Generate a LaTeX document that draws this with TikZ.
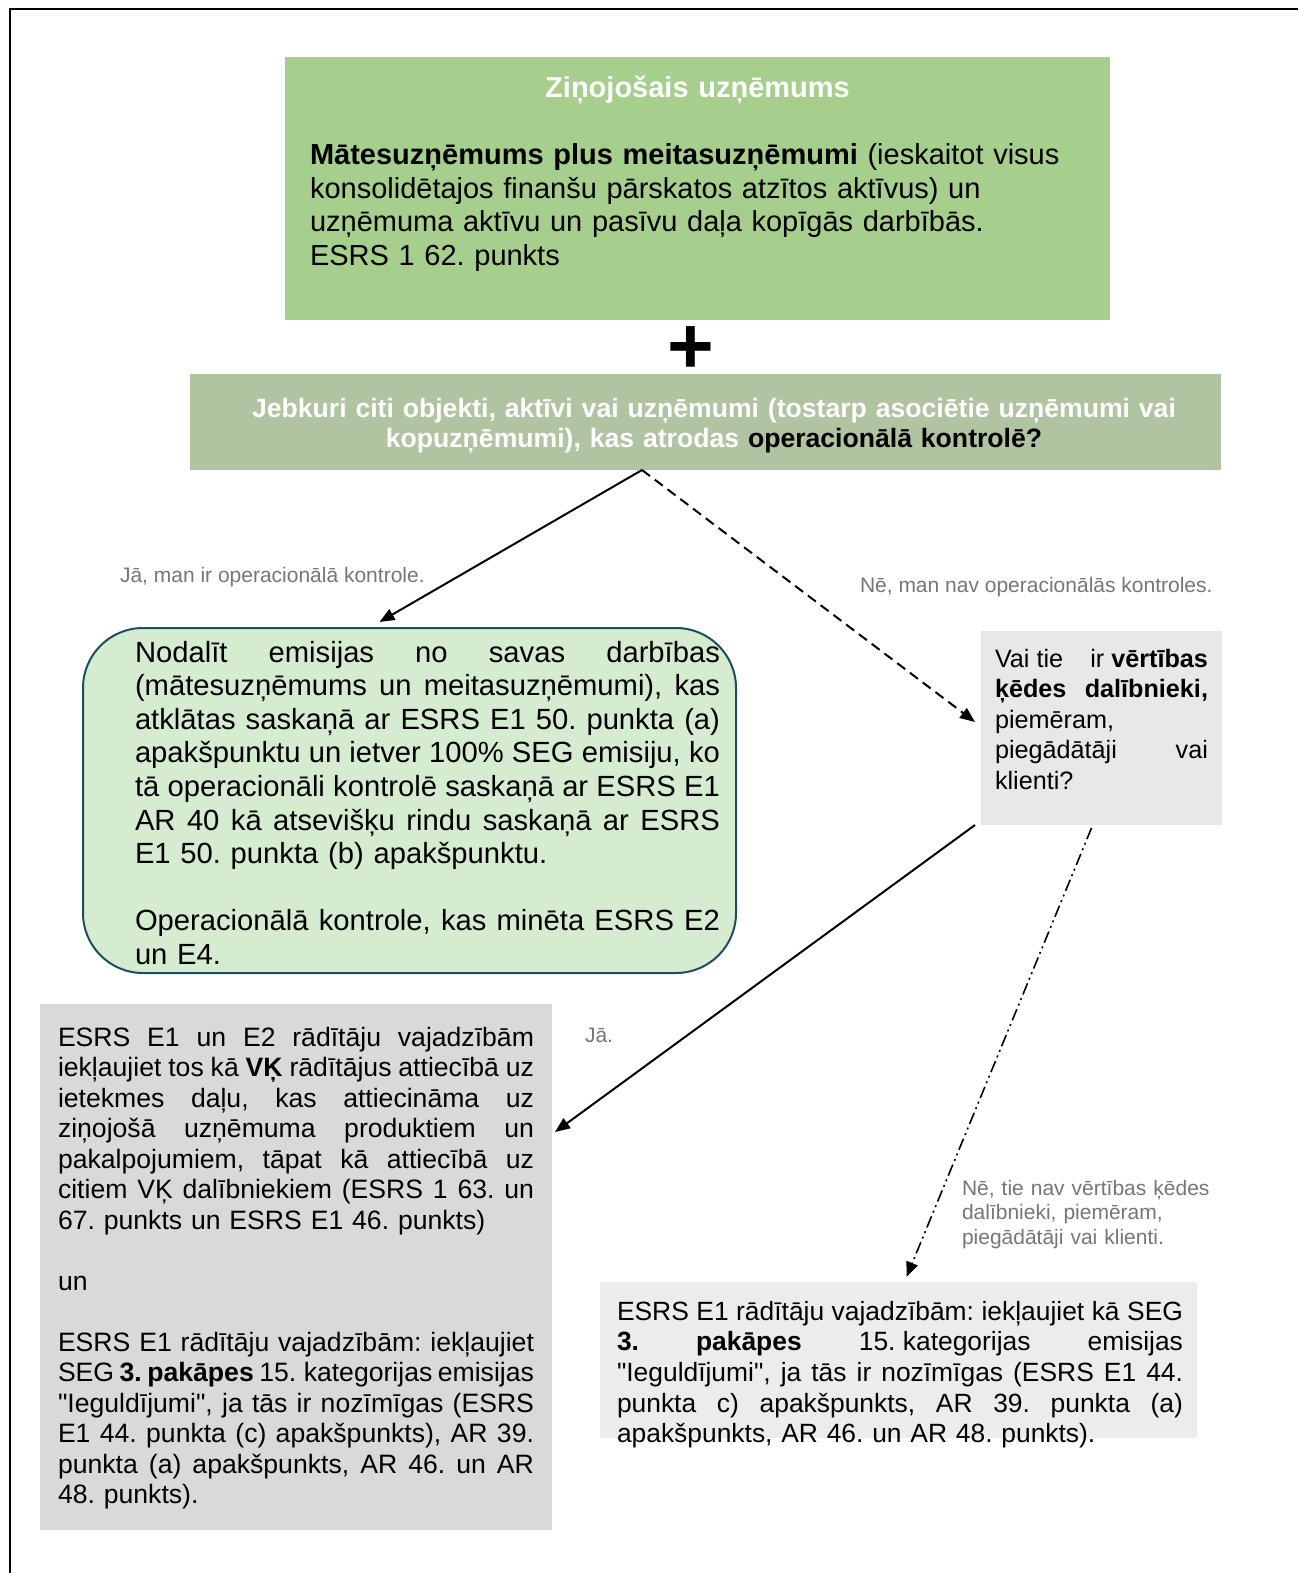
\documentclass[tikz,border=0pt]{standalone}
\usepackage{fontspec}
\setmainfont{Liberation Sans}
\usetikzlibrary{arrows.meta, calc, fit}
\frenchspacing

\definecolor{repgreen}{RGB}{166,206,141}
\definecolor{othgreen}{RGB}{176,196,161}
\definecolor{ownfill}{RGB}{213,236,208}
\definecolor{ownline}{RGB}{30,78,94}
\definecolor{vcgray}{RGB}{232,232,232}
\definecolor{vkgray}{RGB}{217,217,217}
\definecolor{invgray}{RGB}{236,236,236}
\definecolor{notegray}{RGB}{118,118,118}

% one justified line of a box
\newcommand{\jl}[1]{\leavevmode{\spaceskip=0.28em plus 3em minus 0.08em\hbox to \linewidth{#1}}}
% a space that does not stretch
\newcommand{\fs}{\hspace{0.28em}}

\begin{document}
\begin{tikzpicture}[x=0.5pt, y=-0.5pt, >={Triangle[length=7.5pt,width=6pt]},
	box/.style={inner sep=0pt, outer sep=0pt},
	txt/.style={inner sep=0pt, outer sep=0pt, align=left, anchor=base west},
	bigfont/.style={font=\fontsize{14.5}{16.7}\selectfont},
	notefont/.style={font=\fontsize{10.5}{12.25}\selectfont, text=notegray},
	flowline/.style={->, line width=1pt}]
	
	\useasboundingbox (0,0) rectangle (1298,1573);
	% page frame (only top and left edge show)
	\draw[line width=1pt] (1298,9) -- (10,9) -- (10,1573);
	
	% ===== Reporting undertaking + other entities =====
	\node[box, fill=repgreen, fit={(285,57) (1110,320)}] (rep) {};
	\node[txt, anchor=base, text width=400pt, align=center, bigfont, text=white]
		(repTitle) at (697.5,98) {\textbf{Ziņojošais uzņēmums}};
	\node[txt, text width=390pt, bigfont] (repTxt) at (310,165)
		{\textbf{Mātesuzņēmums plus meitasuzņēmumi} (ieskaitot visus\\
		konsolidētajos finanšu pārskatos atzītos aktīvus) un\\
		uzņēmuma aktīvu un pasīvu daļa kopīgās darbībās.\\
		ESRS 1 62. punkts};
	
	\node[box, font=\fontsize{40}{40}\selectfont\bfseries] (plus) at (691,350) {+};
	
	\node[box, fill=othgreen, fit={(190,374) (1221,470)}] (oth) {};
	\node[txt, anchor=base, text width=500pt, align=center, text=white,
		font=\fontsize{13.3}{15}\selectfont\bfseries] (othTxt) at (714,417)
		{Jebkuri citi objekti, aktīvi vai uzņēmumi (tostarp asociētie uzņēmumi vai\\
		kopuzņēmumi), kas atrodas \textcolor{black}{operacionālā kontrolē?}};
	
	% ===== Yes: own operations =====
	\node[box, fill=ownfill, draw=ownline, line width=1pt, rounded corners=30pt,
		fit={(83,628) (736,973)}] (own) {};
	\node[txt, text width=292.5pt, font=\fontsize{14.6}{16.8}\selectfont] (ownTxt) at (135,662)
		{\jl{Nodalīt emisijas no savas darbības}\\
		\jl{(mātesuzņēmums un meitasuzņēmumi), kas}\\
		\jl{atklātas saskaņā ar ESRS E1 50. punkta (a)}\\
		\jl{apakšpunktu un ietver 100\% SEG emisiju, ko}\\
		\jl{tā operacionāli kontrolē saskaņā ar ESRS E1}\\
		\jl{AR 40 kā atsevišķu rindu saskaņā ar ESRS}\\
		E1 50. punkta (b) apakšpunktu.\\[16.8pt]
		\jl{Operacionālā kontrole, kas minēta ESRS E2}\\
		un E4.};
	
	% ===== No: value chain question =====
	\node[box, fill=vcgray, fit={(981,631) (1222,825)}] (vc) {};
	\node[txt, text width=106.5pt, font=\fontsize{12.6}{15.25}\selectfont] (vcTxt) at (995,667)
		{\jl{Vai\fs tie  ir\fs\textbf{vērtības}}\\
		\jl{\textbf{ķēdes dalībnieki,}}\\
		piemēram,\\
		\jl{piegādātāji vai}\\
		klienti?};
	
	% ===== Value chain: yes / no =====
	\node[box, fill=vkgray, fit={(40,1004) (552,1530)}] (vk) {};
	\node[txt, text width=238pt, font=\fontsize{13.3}{15.25}\selectfont] (vkTxt) at (58,1046)
		{\jl{ESRS E1 un E2 rādītāju vajadzībām}\\
		\jl{iekļaujiet tos kā \textbf{VĶ} rādītājus attiecībā uz}\\
		\jl{ietekmes daļu, kas attiecināma uz}\\
		\jl{ziņojošā uzņēmuma produktiem un}\\
		\jl{pakalpojumiem, tāpat kā attiecībā uz}\\
		\jl{citiem VĶ dalībniekiem (ESRS 1 63. un}\\
		67. punkts un ESRS E1 46. punkts)\\[15.25pt]
		un\\[15.25pt]
		\jl{ESRS E1 rādītāju vajadzībām: iekļaujiet}\\
		\jl{SEG \textbf{3. pakāpes} 15.\fs kategorijas emisijas}\\
		\jl{\textquotedbl Ieguldījumi\textquotedbl, ja tās ir nozīmīgas (ESRS}\\
		\jl{E1 44. punkta (c) apakšpunkts), AR 39.}\\
		\jl{punkta (a) apakšpunkts, AR 46. un AR}\\
		48. punkts).};
	
	\node[box, fill=invgray, fit={(600,1282) (1197,1438)}] (inv) {};
	\node[txt, text width=283pt, font=\fontsize{13.2}{15.35}\selectfont] (invTxt) at (617,1320)
		{\jl{ESRS E1 rādītāju vajadzībām: iekļaujiet kā SEG}\\
		\jl{\textbf{3. pakāpes} 15.\fs kategorijas emisijas}\\
		\jl{\textquotedbl Ieguldījumi\textquotedbl, ja tās ir nozīmīgas (ESRS E1 44.}\\
		\jl{punkta c) apakšpunkts, AR 39. punkta (a)}\\
		apakšpunkts, AR 46. un AR 48. punkts).};
	
	% ===== Connectors and their labels =====
	\coordinate (fork) at ([xshift=-31.75pt]oth.south);
	\draw[flowline] (fork) -- ([xshift=-15pt,yshift=3pt]own.north);
	\draw[flowline, dash pattern=on 5pt off 3pt] (fork) -- ([xshift=-3pt,yshift=3pt]vc.west);
	\draw[flowline] ([xshift=-3pt]vc.south west) -- ([xshift=1.5pt,yshift=67.5pt]vk.east);
	\draw[flowline, line width=0.8pt, dash pattern=on 6pt off 2pt on 1pt off 2pt on 1pt off 2pt]
		([xshift=-5pt,yshift=-1.5pt]vc.south) -- ([xshift=4pt,yshift=2.5pt]inv.north);
	
	\node[txt, notefont] (yesOwn) at (120,582) {Jā, man ir operacionālā kontrole.};
	\node[txt, notefont] (noOwn) at (860,592) {Nē, man nav operacionālās kontroles.};
	\node[txt, notefont] (yesVc) at (585,1042) {Jā.};
	\node[txt, notefont, text width=130pt] (noVc) at (962,1195)
		{Nē, tie nav vērtības ķēdes\\dalībnieki, piemēram,\\piegādātāji vai klienti.};
	
\end{tikzpicture}
\end{document}
